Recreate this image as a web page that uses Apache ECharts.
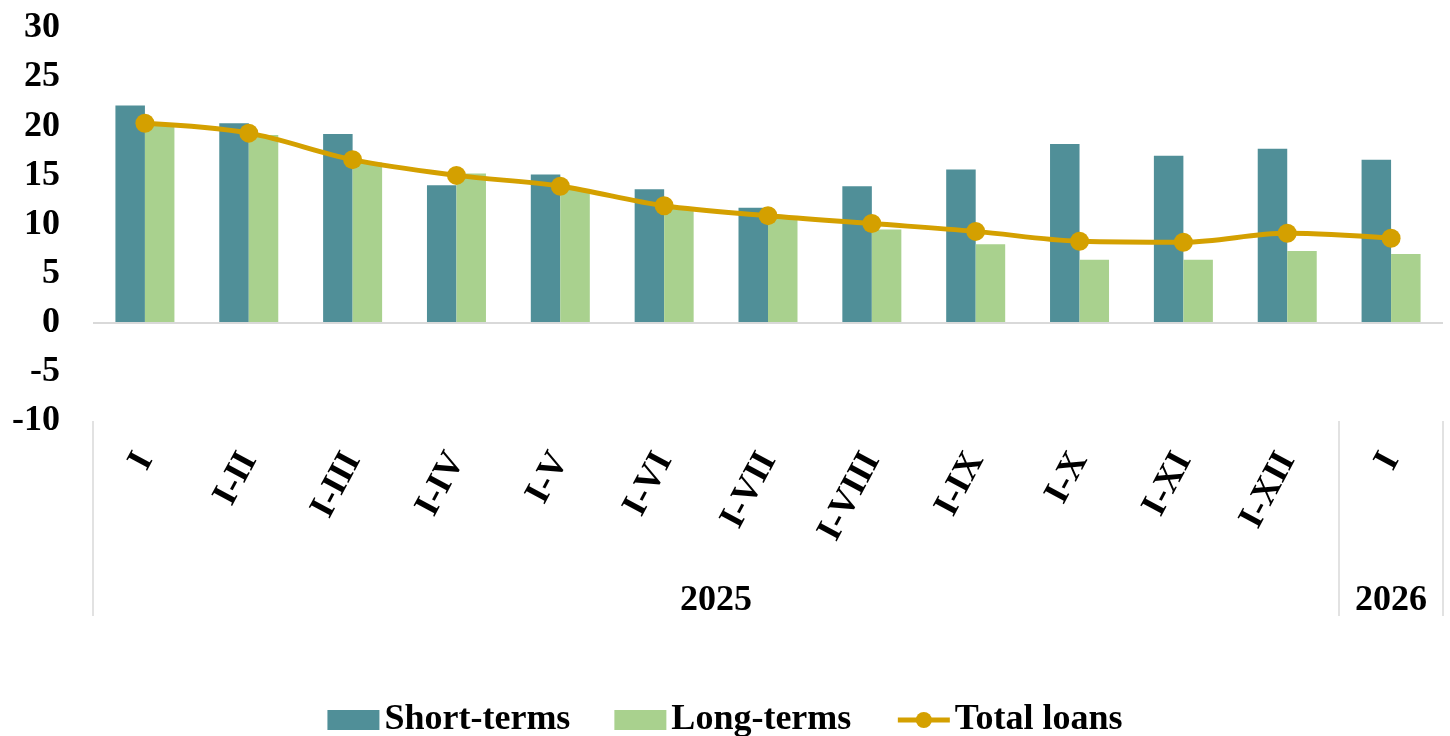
<!DOCTYPE html>
<html>
<head>
<meta charset="utf-8">
<script src="https://cdn.jsdelivr.net/npm/echarts@6/dist/echarts.min.js"></script>
<style>
  html, body { margin: 0; padding: 0; background: #fff; }
  #chart { width: 1450px; height: 736px; }
</style>
</head>
<body>
<div id="chart"></div>
<script>
// periods (cumulative months)
const periods = ['I', 'I-II', 'I-III', 'I-IV', 'I-V', 'I-VI', 'I-VII', 'I-VIII', 'I-IX', 'I-X', 'I-XI', 'I-XII', 'I']
const years = ['2025', '2026']
const yearLabelPos = [6, 12.5]
const yearBounds = [0, 12, 13]

const shortTerms = [22.1, 20.3, 19.2, 14.0, 15.1, 13.6, 11.7, 13.9, 15.6, 18.2, 17.0, 17.7, 16.6]
const longTerms = [20.2, 19.1, 16.3, 15.2, 13.6, 11.6, 10.7, 9.5, 8.0, 6.4, 6.4, 7.3, 7.0]
const totalLoans = [20.3, 19.3, 16.6, 15.0, 13.9, 11.9, 10.9, 10.1, 9.3, 8.3, 8.2, 9.1, 8.6]

const font = 'Liberation Serif'
const gridLine = '#d9d9d9'

var myChart = echarts.init(document.getElementById('chart'))

option = {
    animation: false,
    textStyle: { fontFamily: font },
    grid: { left: 93, right: 7, top: 28, bottom: 315 },
    legend: {
        left: 'center',
        top: 697,
        itemWidth: 52,
        itemHeight: 20,
        itemGap: 44,
        textStyle: { fontFamily: font, fontWeight: 'bold', fontSize: 36, color: '#000' },
        lineStyle: { width: 5 },
        data: [
            { name: 'Short-terms', icon: 'rect' },
            { name: 'Long-terms', icon: 'rect' },
            { name: 'Total loans' }
        ]
    },
    xAxis: [{
        type: 'category',
        data: periods,
        position: 'bottom',
        axisLine: { show: false, onZero: false },
        axisTick: { show: false },
        axisLabel: {
            rotate: 62,
            margin: 34,
            interval: 0,
            fontFamily: font,
            fontWeight: 'bold',
            fontSize: 36,
            color: '#000'
        }
    }, {
        type: 'value',
        min: 0,
        max: 13,
        position: 'bottom',
        axisLine: { show: false, onZero: false },
        splitLine: { show: false },
        axisTick: {
            show: true,
            length: 195,
            customValues: yearBounds,
            lineStyle: { color: gridLine, width: 1.5 }
        },
        axisLabel: {
            customValues: yearLabelPos,
            margin: 162,
            fontFamily: font,
            fontWeight: 'bold',
            fontSize: 36,
            color: '#000',
            formatter: (v) => years[yearLabelPos.indexOf(v)]
        }
    }],
    yAxis: {
        type: 'value',
        min: -10,
        max: 30,
        interval: 5,
        axisLine: { show: false },
        axisTick: { show: false },
        splitLine: { show: false },
        axisLabel: {
            margin: 33,
            fontFamily: font,
            fontWeight: 'bold',
            fontSize: 36,
            color: '#000'
        }
    },
    series: [{
        name: 'Short-terms',
        type: 'bar',
        data: shortTerms,
        barWidth: 29.5,
        barGap: '0%',
        itemStyle: { color: '#508F98' },
        markLine: {
            silent: true,
            symbol: 'none',
            label: { show: false },
            lineStyle: { color: gridLine, width: 2, type: 'solid' },
            data: [{ yAxis: 0 }]
        }
    }, {
        name: 'Long-terms',
        type: 'bar',
        data: longTerms,
        barWidth: 29.5,
        barGap: '0%',
        itemStyle: { color: '#A9D18E' }
    }, {
        name: 'Total loans',
        type: 'line',
        data: totalLoans,
        smooth: 0.35,
        symbol: 'circle',
        symbolSize: 19,
        lineStyle: { color: '#D4A000', width: 5 },
        itemStyle: { color: '#D4A000' },
        z: 5
    }]
}
myChart.setOption(option)
</script>
</body>
</html>
